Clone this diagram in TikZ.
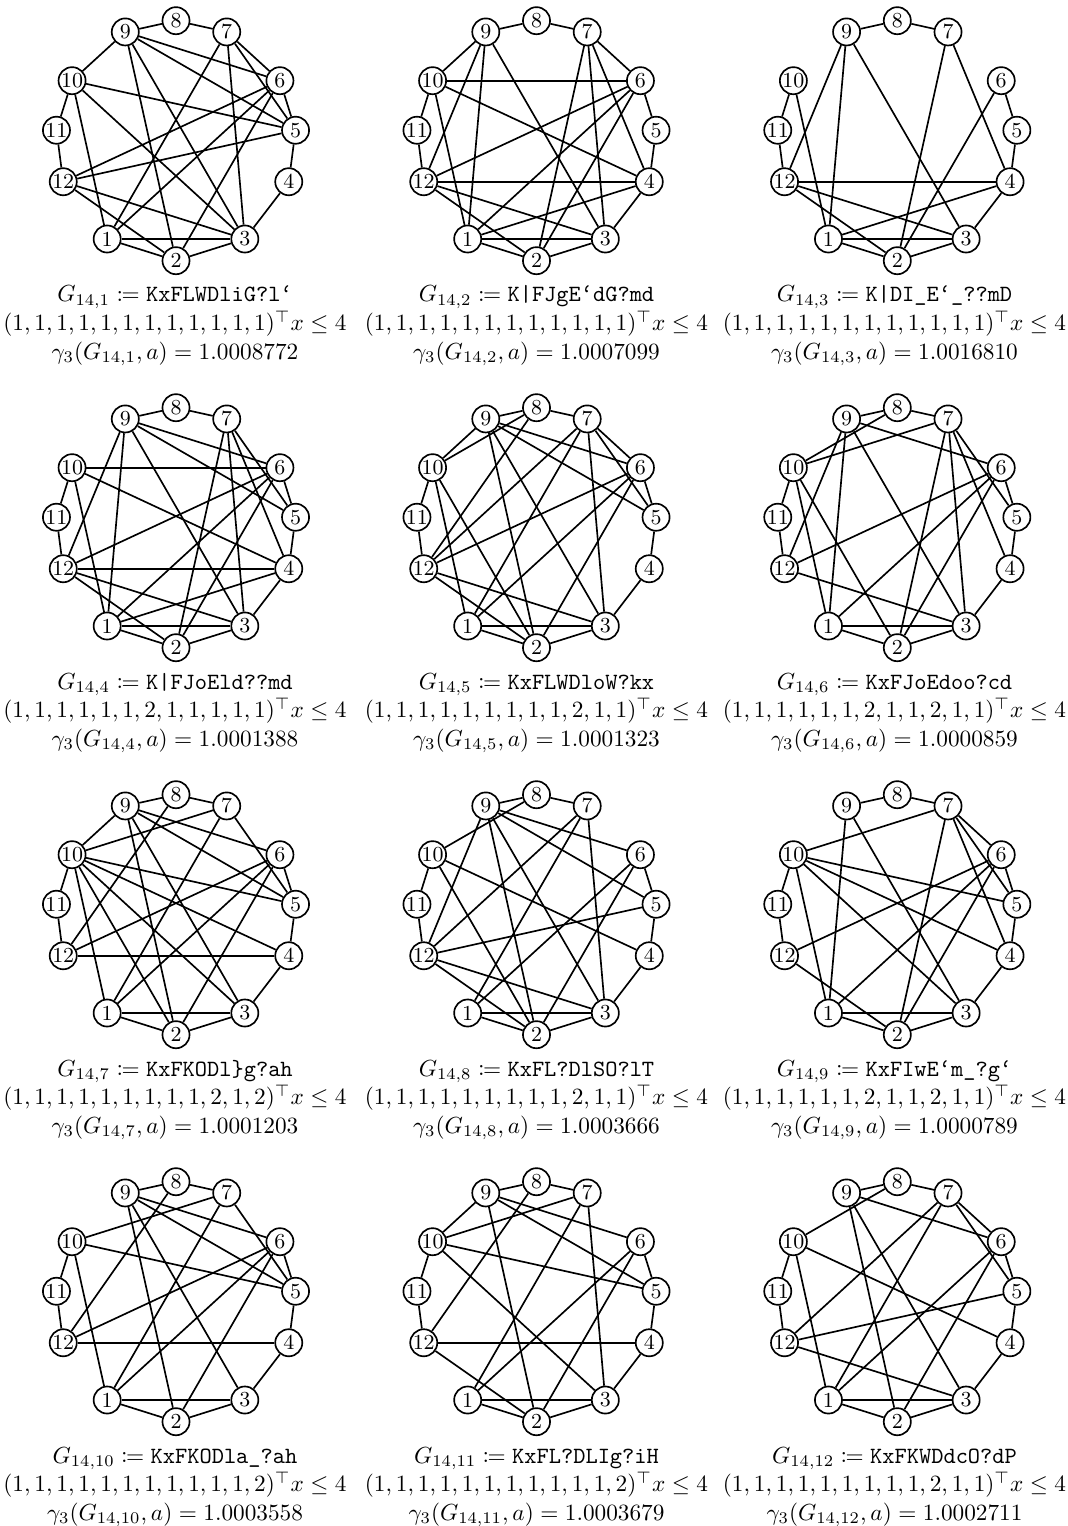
\documentclass[tikz,border=0pt]{standalone}
\usepackage{amsmath}
\usepackage{amssymb}
\usepackage{mathtools}

\newcommand{\vertexangles}{1/-125,2/-90,3/-55,4/-20,5/5,6/30,7/65,8/90,9/115,10/150,11/175,12/200}

\begin{document}
\begin{tikzpicture}[x=0.42105pt, y=0.42105pt,
    vertex/.style={circle, draw, line width=0.7pt, inner sep=0pt, minimum size=11.4pt, font=\small},
    edge/.style={line width=0.7pt},
    caption/.style={anchor=base, scale=0.98}]
    \useasboundingbox (0,0) rectangle (1068,-1526);

    \begin{scope}[shift={(176,-140.7)}]
        \foreach \v/\a in \vertexangles
            \node[vertex] (g1-\v) at (\a:120) {\v};
    \end{scope}
    \foreach \a/\b in {1/2,1/3,2/3,3/4,4/5,1/6,2/6,5/6,1/7,3/7,5/7,6/7,7/8,2/9,3/9,5/9,6/9,8/9,1/10,3/10,5/10,9/10,10/11,2/12,3/12,5/12,6/12,11/12}
        \draw[edge] (g1-\a) -- (g1-\b);
    \node[caption] (g1-name) at (175,-302) {$G_{14,1} \coloneqq \texttt{KxFLWDliG?l\textquoteleft}$};
    \node[caption] (g1-ineq) at (175,-330.5) {$(1,1,1,1,1,1,1,1,1,1,1,1)^\top x \leq 4$};
    \node[caption] (g1-gamma) at (175,-359) {$\gamma_3(G_{14,1}, a) = 1.0008772$};

    \begin{scope}[shift={(536.5,-140.7)}]
        \foreach \v/\a in \vertexangles
            \node[vertex] (g2-\v) at (\a:120) {\v};
    \end{scope}
    \foreach \a/\b in {1/2,1/3,2/3,1/4,3/4,4/5,1/6,2/6,5/6,2/7,3/7,4/7,6/7,7/8,1/9,3/9,8/9,1/10,4/10,6/10,9/10,10/11,2/12,3/12,4/12,6/12,9/12,11/12}
        \draw[edge] (g2-\a) -- (g2-\b);
    \node[caption] (g2-name) at (536.5,-302) {$G_{14,2} \coloneqq \texttt{K|FJgE\textquoteleft dG?md}$};
    \node[caption] (g2-ineq) at (536.5,-330.5) {$(1,1,1,1,1,1,1,1,1,1,1,1)^\top x \leq 4$};
    \node[caption] (g2-gamma) at (536.5,-359) {$\gamma_3(G_{14,2}, a) = 1.0007099$};

    \begin{scope}[shift={(897.3,-140.7)}]
        \foreach \v/\a in \vertexangles
            \node[vertex] (g3-\v) at (\a:120) {\v};
    \end{scope}
    \foreach \a/\b in {1/2,1/3,2/3,1/4,3/4,4/5,2/6,5/6,2/7,4/7,7/8,1/9,3/9,8/9,1/10,10/11,2/12,3/12,4/12,9/12,11/12}
        \draw[edge] (g3-\a) -- (g3-\b);
    \node[caption] (g3-name) at (894.5,-302) {$G_{14,3} \coloneqq \texttt{K|DI\_E\textquoteleft\_??mD}$};
    \node[caption] (g3-ineq) at (894.5,-330.5) {$(1,1,1,1,1,1,1,1,1,1,1,1)^\top x \leq 4$};
    \node[caption] (g3-gamma) at (894.5,-359) {$\gamma_3(G_{14,3}, a) = 1.0016810$};

    \begin{scope}[shift={(176,-527.7)}]
        \foreach \v/\a in \vertexangles
            \node[vertex] (g4-\v) at (\a:120) {\v};
    \end{scope}
    \foreach \a/\b in {1/2,1/3,2/3,1/4,3/4,4/5,1/6,2/6,5/6,2/7,3/7,4/7,5/7,7/8,1/9,3/9,5/9,6/9,8/9,1/10,4/10,6/10,10/11,2/12,3/12,4/12,6/12,9/12,11/12}
        \draw[edge] (g4-\a) -- (g4-\b);
    \node[caption] (g4-name) at (175,-689) {$G_{14,4} \coloneqq \texttt{K|FJoEld??md}$};
    \node[caption] (g4-ineq) at (175,-717.5) {$(1,1,1,1,1,1,2,1,1,1,1,1)^\top x \leq 4$};
    \node[caption] (g4-gamma) at (175,-746) {$\gamma_3(G_{14,4}, a) = 1.0001388$};

    \begin{scope}[shift={(536.5,-527.7)}]
        \foreach \v/\a in \vertexangles
            \node[vertex] (g5-\v) at (\a:120) {\v};
    \end{scope}
    \foreach \a/\b in {1/2,1/3,2/3,3/4,4/5,1/6,2/6,5/6,1/7,3/7,5/7,6/7,7/8,2/9,3/9,5/9,6/9,8/9,1/10,2/10,8/10,9/10,10/11,2/12,3/12,6/12,7/12,8/12,11/12}
        \draw[edge] (g5-\a) -- (g5-\b);
    \node[caption] (g5-name) at (536.5,-689) {$G_{14,5} \coloneqq \texttt{KxFLWDloW?kx}$};
    \node[caption] (g5-ineq) at (536.5,-717.5) {$(1,1,1,1,1,1,1,1,1,2,1,1)^\top x \leq 4$};
    \node[caption] (g5-gamma) at (536.5,-746) {$\gamma_3(G_{14,5}, a) = 1.0001323$};

    \begin{scope}[shift={(897.3,-527.7)}]
        \foreach \v/\a in \vertexangles
            \node[vertex] (g6-\v) at (\a:120) {\v};
    \end{scope}
    \foreach \a/\b in {1/2,1/3,2/3,3/4,4/5,1/6,2/6,5/6,2/7,3/7,4/7,5/7,7/8,1/9,3/9,6/9,8/9,1/10,2/10,7/10,8/10,10/11,3/12,6/12,9/12,11/12}
        \draw[edge] (g6-\a) -- (g6-\b);
    \node[caption] (g6-name) at (894.5,-689) {$G_{14,6} \coloneqq \texttt{KxFJoEdoo?cd}$};
    \node[caption] (g6-ineq) at (894.5,-717.5) {$(1,1,1,1,1,1,2,1,1,2,1,1)^\top x \leq 4$};
    \node[caption] (g6-gamma) at (894.5,-746) {$\gamma_3(G_{14,6}, a) = 1.0000859$};

    \begin{scope}[shift={(176,-914.7)}]
        \foreach \v/\a in \vertexangles
            \node[vertex] (g7-\v) at (\a:120) {\v};
    \end{scope}
    \foreach \a/\b in {1/2,1/3,2/3,3/4,4/5,1/6,2/6,5/6,1/7,5/7,7/8,2/9,3/9,5/9,6/9,8/9,1/10,2/10,3/10,4/10,5/10,7/10,9/10,10/11,4/12,6/12,8/12,11/12}
        \draw[edge] (g7-\a) -- (g7-\b);
    \node[caption] (g7-name) at (175,-1076) {$G_{14,7} \coloneqq \texttt{KxFKODl\}g?ah}$};
    \node[caption] (g7-ineq) at (175,-1104.5) {$(1,1,1,1,1,1,1,1,1,2,1,2)^\top x \leq 4$};
    \node[caption] (g7-gamma) at (175,-1133) {$\gamma_3(G_{14,7}, a) = 1.0001203$};

    \begin{scope}[shift={(536.5,-914.7)}]
        \foreach \v/\a in \vertexangles
            \node[vertex] (g8-\v) at (\a:120) {\v};
    \end{scope}
    \foreach \a/\b in {1/2,1/3,2/3,3/4,4/5,1/6,2/6,5/6,1/7,3/7,7/8,2/9,3/9,5/9,6/9,8/9,2/10,4/10,8/10,10/11,2/12,3/12,5/12,7/12,9/12,11/12}
        \draw[edge] (g8-\a) -- (g8-\b);
    \node[caption] (g8-name) at (536.5,-1076) {$G_{14,8} \coloneqq \texttt{KxFL?DlSO?lT}$};
    \node[caption] (g8-ineq) at (536.5,-1104.5) {$(1,1,1,1,1,1,1,1,1,2,1,1)^\top x \leq 4$};
    \node[caption] (g8-gamma) at (536.5,-1133) {$\gamma_3(G_{14,8}, a) = 1.0003666$};

    \begin{scope}[shift={(897.3,-914.7)}]
        \foreach \v/\a in \vertexangles
            \node[vertex] (g9-\v) at (\a:120) {\v};
    \end{scope}
    \foreach \a/\b in {1/2,1/3,2/3,3/4,4/5,1/6,2/6,5/6,2/7,4/7,5/7,6/7,7/8,1/9,3/9,8/9,1/10,3/10,4/10,5/10,7/10,10/11,2/12,6/12,11/12}
        \draw[edge] (g9-\a) -- (g9-\b);
    \node[caption] (g9-name) at (894.5,-1076) {$G_{14,9} \coloneqq \texttt{KxFIwE\textquoteleft m\_?g\textquoteleft}$};
    \node[caption] (g9-ineq) at (894.5,-1104.5) {$(1,1,1,1,1,1,2,1,1,2,1,1)^\top x \leq 4$};
    \node[caption] (g9-gamma) at (894.5,-1133) {$\gamma_3(G_{14,9}, a) = 1.0000789$};

    \begin{scope}[shift={(176,-1301.7)}]
        \foreach \v/\a in \vertexangles
            \node[vertex] (g10-\v) at (\a:120) {\v};
    \end{scope}
    \foreach \a/\b in {1/2,1/3,2/3,3/4,4/5,1/6,2/6,5/6,1/7,5/7,7/8,2/9,3/9,5/9,6/9,8/9,1/10,5/10,7/10,10/11,4/12,6/12,8/12,11/12}
        \draw[edge] (g10-\a) -- (g10-\b);
    \node[caption] (g10-name) at (175,-1463) {$G_{14,10} \coloneqq \texttt{KxFKODla\_?ah}$};
    \node[caption] (g10-ineq) at (175,-1491.5) {$(1,1,1,1,1,1,1,1,1,1,1,2)^\top x \leq 4$};
    \node[caption] (g10-gamma) at (175,-1520) {$\gamma_3(G_{14,10}, a) = 1.0003558$};

    \begin{scope}[shift={(536.5,-1301.7)}]
        \foreach \v/\a in \vertexangles
            \node[vertex] (g11-\v) at (\a:120) {\v};
    \end{scope}
    \foreach \a/\b in {1/2,1/3,2/3,3/4,4/5,1/6,2/6,5/6,1/7,3/7,7/8,2/9,5/9,6/9,8/9,3/10,5/10,7/10,9/10,10/11,2/12,4/12,8/12,11/12}
        \draw[edge] (g11-\a) -- (g11-\b);
    \node[caption] (g11-name) at (536.5,-1463) {$G_{14,11} \coloneqq \texttt{KxFL?DLIg?iH}$};
    \node[caption] (g11-ineq) at (536.5,-1491.5) {$(1,1,1,1,1,1,1,1,1,1,1,2)^\top x \leq 4$};
    \node[caption] (g11-gamma) at (536.5,-1520) {$\gamma_3(G_{14,11}, a) = 1.0003679$};

    \begin{scope}[shift={(897.3,-1301.7)}]
        \foreach \v/\a in \vertexangles
            \node[vertex] (g12-\v) at (\a:120) {\v};
    \end{scope}
    \foreach \a/\b in {1/2,1/3,2/3,3/4,4/5,1/6,2/6,5/6,1/7,5/7,6/7,7/8,2/9,3/9,6/9,8/9,1/10,4/10,8/10,10/11,3/12,5/12,7/12,11/12}
        \draw[edge] (g12-\a) -- (g12-\b);
    \node[caption] (g12-name) at (894.5,-1463) {$G_{14,12} \coloneqq \texttt{KxFKWDdcO?dP}$};
    \node[caption] (g12-ineq) at (894.5,-1491.5) {$(1,1,1,1,1,1,1,1,1,2,1,1)^\top x \leq 4$};
    \node[caption] (g12-gamma) at (894.5,-1520) {$\gamma_3(G_{14,12}, a) = 1.0002711$};
\end{tikzpicture}
\end{document}
